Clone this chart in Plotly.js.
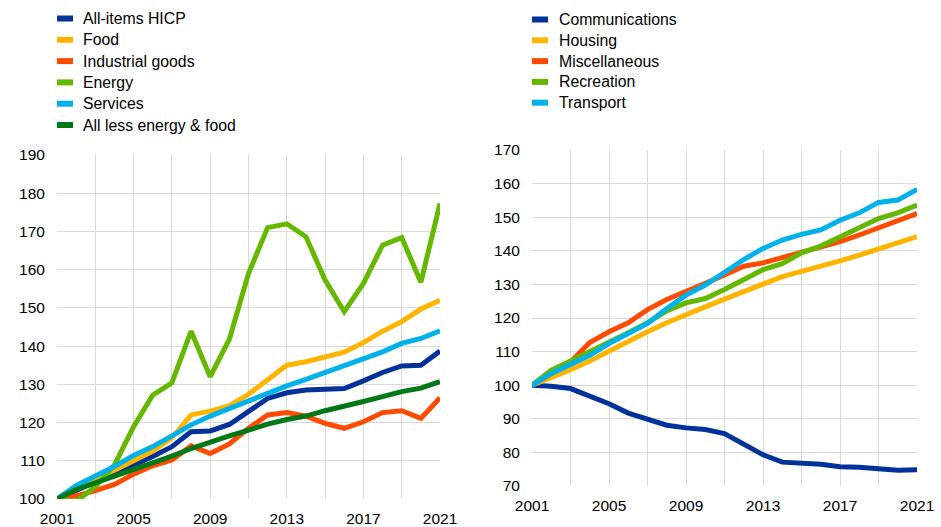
<!DOCTYPE html>
<html>
<head>
<meta charset="utf-8">
<script src="https://cdn.plot.ly/plotly-3.0.1.min.js"></script>
<style>
html,body{margin:0;padding:0;background:#fff;}
#chart{width:941px;height:527px;}
</style>
</head>
<body>
<div id="chart"></div>
<script>
// Years
const years = [2001,2002,2003,2004,2005,2006,2007,2008,2009,2010,2011,2012,2013,2014,2015,2016,2017,2018,2019,2020,2021];

// Left panel (index, 2001 = 100)
const leftNames = ["All-items HICP","Food","Industrial goods","Energy","Services","All less energy & food"];
const hicp      = [100,102.3,104.5,106.7,108.9,111.1,113.7,117.6,117.8,119.5,123.1,126.3,127.8,128.5,128.7,128.9,130.9,133.1,134.8,135.0,138.7];
const food      = [100,103.5,105.5,107.5,110.0,112.5,116.0,122.0,123.0,124.4,127.4,131.3,135.0,135.9,137.2,138.4,140.9,143.9,146.4,149.7,152.0];
const industrial= [100,100.8,102.2,103.8,106.5,108.7,110.2,113.9,111.9,114.4,118.5,122.0,122.6,121.7,119.8,118.5,120.2,122.6,123.1,121.1,126.5];
const energy    = [100,99.4,103.2,108.9,118.9,127.2,130.4,143.9,132.0,141.8,159.0,171.0,172.0,168.6,157.3,149.0,156.4,166.4,168.4,156.7,177.3];
const services  = [100,103.5,106.0,108.5,111.4,113.7,116.5,119.4,121.7,123.7,125.7,127.9,129.6,131.3,133.1,134.6,136.5,138.5,140.7,142.0,144.0];
const lessEF    = [100,102.5,104.2,105.9,107.6,109.3,111.2,113.2,115.0,116.5,118.0,119.6,120.8,121.7,123.1,124.2,125.5,126.8,128.1,129.0,130.7];

// Right panel (index, 2001 = 100)
const rightNames = ["Communications","Housing","Miscellaneous","Recreation","Transport"];
const communications= [100,99.7,99.0,96.7,94.5,91.7,90.0,88.1,87.3,86.8,85.6,82.6,79.3,77.1,76.7,76.5,75.7,75.6,75.1,74.7,74.8];
const housing       = [100,102.2,104.6,107.2,110.2,113.1,115.9,118.6,121.1,123.3,125.6,128.0,130.1,132.3,133.8,135.2,137.0,138.7,140.6,142.4,144.2];
const miscellaneous = [100,103.5,106.9,112.7,115.9,118.6,122.5,125.5,128.1,130.3,132.8,135.4,136.4,138.0,139.7,141.2,142.7,144.7,146.9,149.0,151.1];
const recreation    = [100,104.5,107.2,109.9,112.9,115.6,118.6,122.1,124.5,125.8,128.5,131.5,134.4,136.2,139.4,141.4,144.2,147.2,149.6,151.3,153.6];
const transport     = [100,103.5,106.2,108.9,112.4,115.2,118.4,122.8,126.8,129.8,133.8,137.4,140.7,143.2,144.9,146.2,149.1,151.3,154.4,155.1,158.3];

const xTickVals = [2001,2005,2009,2013,2017,2021];
const xGridVals = [2001,2003,2005,2007,2009,2011,2013,2015,2017,2019,2021];
const leftYTicks = [100,110,120,130,140,150,160,170,180,190];
const rightYTicks = [70,80,90,100,110,120,130,140,150,160,170];

const colors = {
  darkblue:"#003299", yellow:"#FFB400", orange:"#FF4B00",
  green:"#65B800", lightblue:"#00B1EA", darkgreen:"#007816"
};

const leftSeries = [hicp, food, industrial, energy, services, lessEF];
const leftColors = [colors.darkblue, colors.yellow, colors.orange, colors.green, colors.lightblue, colors.darkgreen];
const rightSeries = [communications, housing, miscellaneous, recreation, transport];
const rightColors = [colors.darkblue, colors.yellow, colors.orange, colors.green, colors.lightblue];

const LW = 5;
const traces = [];
leftSeries.forEach((s,i)=>{
  traces.push({x:years, y:s, name:leftNames[i], type:"scatter", mode:"lines",
    line:{color:leftColors[i], width:LW}, xaxis:"x", yaxis:"y", showlegend:false});
});
rightSeries.forEach((s,i)=>{
  traces.push({x:years, y:s, name:rightNames[i], type:"scatter", mode:"lines",
    line:{color:rightColors[i], width:LW}, xaxis:"x2", yaxis:"y2", showlegend:false});
});

const W = 941, H = 527;
const gridColor = "#d9d9d9";
const fontFamily = "Liberation Sans, Arial, sans-serif";
const tickFont = {family:fontFamily, size:15.5, color:"#000"};

function xAxis(domain, anchor){
  return {domain:domain, anchor:anchor, range:[2001,2021], tickvals:xTickVals, ticktext:xTickVals.map(String),
    showgrid:true, gridcolor:gridColor, gridwidth:1, zeroline:false, showline:false,
    ticks:"outside", ticklen:0, ticklabelstandoff:5, tickfont:tickFont,
    minor:{tickvals:xGridVals, showgrid:true, gridcolor:gridColor, gridwidth:1, ticks:""},
    fixedrange:true};
}
function yAxis(domain, anchor, range, tv){
  return {domain:domain, anchor:anchor, range:range, tickvals:tv, ticktext:tv.map(String),
    showgrid:true, gridcolor:gridColor, gridwidth:1, zeroline:false, showline:false,
    ticks:"outside", ticklen:0, ticklabelstandoff:8, tickfont:tickFont, fixedrange:true};
}

// Custom legends (swatch + label), positioned in pixels
const shapes = [], annotations = [];
function addLegend(names, cols, swX, textX, y0, step){
  names.forEach((n,i)=>{
    const yc = y0 + i*step;
    shapes.push({type:"rect", xref:"paper", yref:"paper",
      x0:swX/W, x1:(swX+16)/W, y0:1-(yc+3)/H, y1:1-(yc-3)/H,
      fillcolor:cols[i], line:{width:0}});
    annotations.push({xref:"paper", yref:"paper", x:textX/W, y:1-yc/H, xanchor:"left", yanchor:"middle",
      text:n, showarrow:false, font:{family:fontFamily, size:15.8, color:"#000"}});
  });
}
addLegend(leftNames, leftColors, 57, 81, 18.5, 21.3);
addLegend(rightNames, rightColors, 532, 557, 19.5, 20.8);

const layout = {
  width:W, height:H,
  margin:{l:0,r:0,t:0,b:0},
  paper_bgcolor:"#fff", plot_bgcolor:"#fff",
  showlegend:false,
  xaxis: xAxis([57/W, 440/W], "y"),
  yaxis: yAxis([1-499/H, 1-155/H], "x", [100,190], leftYTicks),
  xaxis2: xAxis([532/W, 917/W], "y2"),
  yaxis2: yAxis([1-486/H, 1-150/H], "x2", [70,170], rightYTicks),
  shapes:shapes, annotations:annotations,
  hovermode:false
};

Plotly.newPlot("chart", traces, layout, {displayModeBar:false, staticPlot:true});
</script>
</body>
</html>
